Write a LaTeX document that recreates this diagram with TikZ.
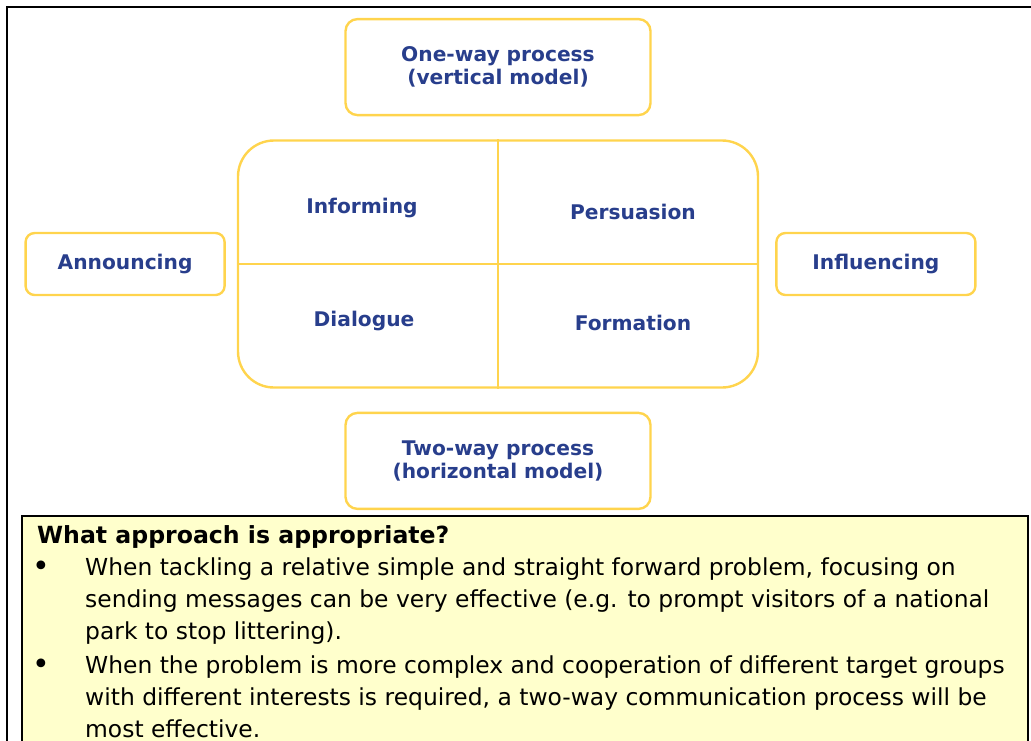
\documentclass[tikz,border=0pt]{standalone}
\usepackage{fontspec}
\setmainfont{DejaVu Sans}
\usetikzlibrary{positioning}
\definecolor{frameyellow}{RGB}{255,212,77}
\definecolor{labelblue}{RGB}{40,62,140}
\definecolor{noteyellow}{RGB}{255,255,204}
\tikzset{
  basic/.style    = {draw=frameyellow, line width=2.4pt, rectangle, align=center,
                     text=labelblue, font=\bfseries\fontsize{20.2}{23}\selectfont},
  process/.style  = {basic, rounded corners=12pt, minimum width=305pt,
                     minimum height=96pt},
  side/.style     = {basic, rounded corners=9pt, minimum width=199pt,
                     minimum height=62pt},
  core/.style     = {basic, rounded corners=36pt, minimum width=520pt,
                     minimum height=247pt},
  cell/.style     = {text=labelblue, font=\bfseries\fontsize{20.2}{23}\selectfont},
  note/.style     = {draw=black, line width=2.8pt, fill=noteyellow},
  notetext/.style = {align=left, inner sep=0pt, font=\fontsize{23.4}{32}\selectfont}
}

\begin{document}
\begin{tikzpicture}[x=1pt, y=-1pt]
\useasboundingbox (0,0) rectangle (1031,740);

% outer frame
\draw[line width=2.6pt] (7,760) -- (7,7) -- (1040,7);

% middle block with its four fields
\node[core] (core) at (498,264) {};
\draw[frameyellow, line width=2pt] (core.north) -- (core.south);
\draw[frameyellow, line width=2pt] (core.west) -- (core.east);

\node[cell] (inform) at (362,208) {Informing};
\node[cell] (persuade) at (633,212) {Persuasion};
\node[cell] (dialogue) at (364,321) {Dialogue};
\node[cell] (formation) at (633,323) {Formation};

% the boxes round it
\node[process, above=23pt of core] (oneway) {One-way process\\(vertical model)};
\node[process, below=23pt of core] (twoway) {Two-way process\\(horizontal model)};
\node[side, left=11pt of core] (announce) {Announcing};
\node[side, right=16pt of core] (influence) {Influencing};

% note at the bottom (base anchor = last line)
\draw[note] (22,516) rectangle (1028,760);
\node[notetext, font=\bfseries\fontsize{23.6}{32}\selectfont, anchor=base west]
  (title) at (37,543) {What approach is appropriate?};

\foreach \y/\n in {576/1,674/2}
  \node[notetext, font=\fontsize{30}{32}\selectfont, anchor=base] (dot\n) at (41,\y) {•};

\node[notetext, anchor=base west] (item1) at (85,639)
  {When tackling a relative simple and straight forward problem, focusing on\\
   sending messages can be very effective (e.g. to prompt visitors of a national\\
   park to stop littering).};
\node[notetext, anchor=base west] (item2) at (85,737)
  {When the problem is more complex and cooperation of different target groups\\
   with different interests is required, a two-way communication process will be\\
   most effective.};

\end{tikzpicture}
\end{document}
